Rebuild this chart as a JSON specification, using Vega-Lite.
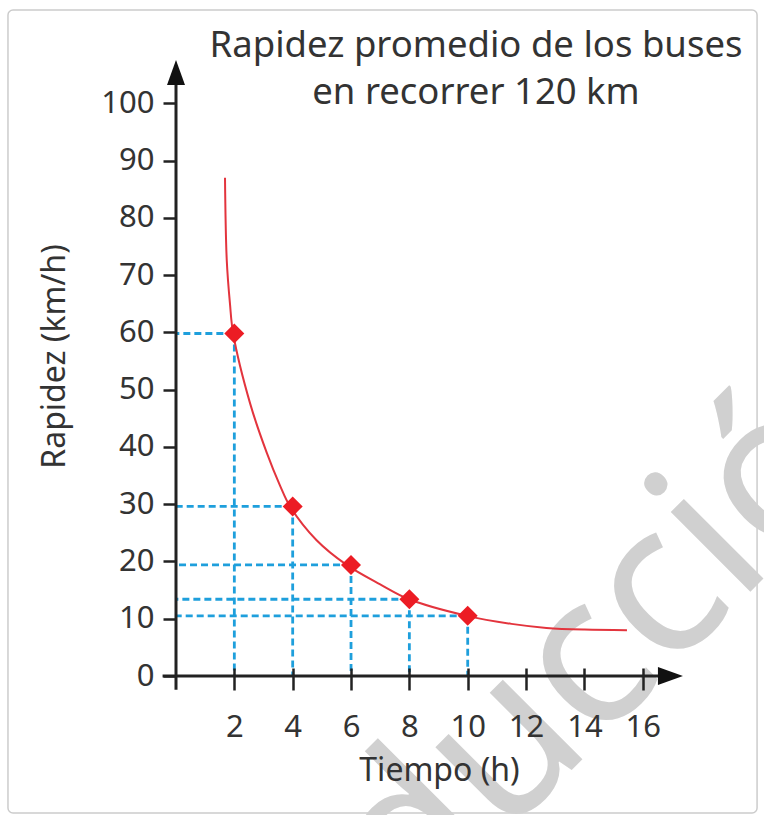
{
  "$schema": "https://vega.github.io/schema/vega-lite/v6.json",
  "width": 508,
  "height": 614,
  "autosize": {"type": "none"},
  "padding": {"left": 176, "top": 62, "right": 80, "bottom": 139},
  "background": "white",
  "config": {
    "view": {"stroke": null},
    "font": "Noto Sans",
    "axisX": {
      "domain": false, "grid": false,
      "offset": -8,
      "ticks": true, "tickSize": 22, "tickWidth": 2.5, "tickColor": "#222222",
      "labelFont": "Noto Sans", "labelFontSize": 31, "labelColor": "#333333",
      "labelBaseline": "alphabetic", "labelPadding": 46,
      "titleFont": "Noto Sans", "titleFontSize": 32, "titleFontWeight": "normal", "titleColor": "#333333",
      "titleX": 263, "titleY": 112, "titleAlign": "center", "titleBaseline": "alphabetic"
    },
    "axisY": {
      "domain": false, "grid": false,
      "ticks": true, "tickSize": 13, "tickWidth": 2.5, "tickColor": "#222222",
      "labelFont": "Noto Sans", "labelFontSize": 31, "labelColor": "#333333",
      "labelPadding": 9,
      "titleFont": "Noto Sans", "titleFontSize": 32, "titleFontWeight": "normal", "titleColor": "#333333",
      "titleX": -112, "titleY": 294, "titleAlign": "center", "titleBaseline": "alphabetic", "titleAngle": -90
    }
  },
  "title": {
    "text": ["Rapidez promedio de los buses", "en recorrer 120 km"],
    "font": "Noto Sans",
    "fontSize": 36.5,
    "fontWeight": "normal",
    "color": "#333333",
    "anchor": "middle",
    "frame": "group",
    "baseline": "alphabetic",
    "lineHeight": 47,
    "dx": 46,
    "offset": -131.5
  },
  "datasets": {
    "curve": [
      {"t": 1.68, "v": 87},
      {"t": 1.74, "v": 72.6},
      {"t": 1.85, "v": 65},
      {"t": 1.96, "v": 59.8},
      {"t": 2.54, "v": 47.6},
      {"t": 3.11, "v": 39.0},
      {"t": 3.57, "v": 33.2},
      {"t": 3.91, "v": 29.6},
      {"t": 4.82, "v": 23.7},
      {"t": 5.85, "v": 19.4},
      {"t": 7.0, "v": 16.0},
      {"t": 7.99, "v": 13.4},
      {"t": 9.98, "v": 10.5},
      {"t": 11.5, "v": 9.1},
      {"t": 12.7, "v": 8.4},
      {"t": 14.0, "v": 8.1},
      {"t": 15.46, "v": 8.0}
    ],
    "points": [
      {"t": 2, "v": 59.8},
      {"t": 4, "v": 29.6},
      {"t": 6, "v": 19.4},
      {"t": 8, "v": 13.4},
      {"t": 10, "v": 10.5}
    ],
    "watermark": [
      {"label": "ducció"}
    ]
  },
  "layer": [
    {
      "data": {"values": [{}]},
      "mark": {"type": "rect", "fill": "transparent", "stroke": "#cccccc", "strokeWidth": 1.5, "cornerRadius": 5},
      "encoding": {
        "x": {"datum": -5.76, "type": "quantitative", "scale": {"domain": [0, 17.415], "nice": false, "zero": false}, "title": "Tiempo (h)", "axis": {"values": [2, 4, 6, 8, 10, 12, 14, 16], "zindex": 1}},
        "x2": {"datum": 19.92},
        "y": {"datum": -23.92, "type": "quantitative", "scale": {"domain": [0, 107.2], "nice": false, "zero": false}, "title": "Rapidez (km/h)", "axis": {"values": [0, 10, 20, 30, 40, 50, 60, 70, 80, 90, 100], "zindex": 1}},
        "y2": {"datum": 116.28}
      }
    },
    {
      "data": {"name": "watermark"},
      "mark": {"type": "text", "font": "Noto Sans", "fontSize": 210, "color": "#d0d0d0", "angle": -45, "align": "center", "baseline": "alphabetic"},
      "encoding": {
        "x": {"datum": 15.87, "type": "quantitative", "scale": {"domain": [0, 17.415], "nice": false, "zero": false}, "title": "Tiempo (h)", "axis": {"values": [2, 4, 6, 8, 10, 12, 14, 16], "zindex": 1}},
        "y": {"datum": -4.71, "type": "quantitative", "scale": {"domain": [0, 107.2], "nice": false, "zero": false}, "title": "Rapidez (km/h)", "axis": {"values": [0, 10, 20, 30, 40, 50, 60, 70, 80, 90, 100], "zindex": 1}},
        "text": {"field": "label"}
      }
    },
    {
      "data": {"name": "points"},
      "mark": {"type": "rule", "color": "#1e9fdc", "strokeWidth": 2.8, "strokeDash": [7, 4]},
      "encoding": {
        "x": {"field": "t", "type": "quantitative", "scale": {"domain": [0, 17.415], "nice": false, "zero": false}, "title": "Tiempo (h)", "axis": {"values": [2, 4, 6, 8, 10, 12, 14, 16], "zindex": 1}},
        "x2": {"datum": 0},
        "y": {"field": "v", "type": "quantitative", "scale": {"domain": [0, 107.2], "nice": false, "zero": false}, "title": "Rapidez (km/h)", "axis": {"values": [0, 10, 20, 30, 40, 50, 60, 70, 80, 90, 100], "zindex": 1}}
      }
    },
    {
      "data": {"name": "points"},
      "mark": {"type": "rule", "color": "#1e9fdc", "strokeWidth": 2.8, "strokeDash": [7, 4]},
      "encoding": {
        "x": {"field": "t", "type": "quantitative", "scale": {"domain": [0, 17.415], "nice": false, "zero": false}, "title": "Tiempo (h)", "axis": {"values": [2, 4, 6, 8, 10, 12, 14, 16], "zindex": 1}},
        "y": {"field": "v", "type": "quantitative", "scale": {"domain": [0, 107.2], "nice": false, "zero": false}, "title": "Rapidez (km/h)", "axis": {"values": [0, 10, 20, 30, 40, 50, 60, 70, 80, 90, 100], "zindex": 1}},
        "y2": {"datum": 0}
      }
    },
    {
      "data": {"name": "curve"},
      "mark": {"type": "line", "color": "#e3343d", "strokeWidth": 2, "interpolate": "catmull-rom"},
      "encoding": {
        "x": {"field": "t", "type": "quantitative", "scale": {"domain": [0, 17.415], "nice": false, "zero": false}, "title": "Tiempo (h)", "axis": {"values": [2, 4, 6, 8, 10, 12, 14, 16], "zindex": 1}},
        "y": {"field": "v", "type": "quantitative", "scale": {"domain": [0, 107.2], "nice": false, "zero": false}, "title": "Rapidez (km/h)", "axis": {"values": [0, 10, 20, 30, 40, 50, 60, 70, 80, 90, 100], "zindex": 1}}
      }
    },
    {
      "data": {"values": [{}]},
      "mark": {"type": "rule", "color": "#222222", "strokeWidth": 3},
      "encoding": {
        "x": {"datum": -0.46, "type": "quantitative", "scale": {"domain": [0, 17.415], "nice": false, "zero": false}, "title": "Tiempo (h)", "axis": {"values": [2, 4, 6, 8, 10, 12, 14, 16], "zindex": 1}},
        "x2": {"datum": 16.95},
        "y": {"datum": 0, "type": "quantitative", "scale": {"domain": [0, 107.2], "nice": false, "zero": false}, "title": "Rapidez (km/h)", "axis": {"values": [0, 10, 20, 30, 40, 50, 60, 70, 80, 90, 100], "zindex": 1}}
      }
    },
    {
      "data": {"values": [{}]},
      "mark": {"type": "rule", "color": "#222222", "strokeWidth": 3},
      "encoding": {
        "x": {"datum": 0, "type": "quantitative", "scale": {"domain": [0, 17.415], "nice": false, "zero": false}, "title": "Tiempo (h)", "axis": {"values": [2, 4, 6, 8, 10, 12, 14, 16], "zindex": 1}},
        "y": {"datum": -2.4, "type": "quantitative", "scale": {"domain": [0, 107.2], "nice": false, "zero": false}, "title": "Rapidez (km/h)", "axis": {"values": [0, 10, 20, 30, 40, 50, 60, 70, 80, 90, 100], "zindex": 1}},
        "y2": {"datum": 105.38}
      }
    },
    {
      "data": {"values": [{}]},
      "mark": {"type": "point", "shape": "M-1,-0.72L1,0L-1,0.72Z", "size": 625, "filled": true, "color": "#111111", "opacity": 1},
      "encoding": {
        "x": {"datum": 16.95, "type": "quantitative", "scale": {"domain": [0, 17.415], "nice": false, "zero": false}, "title": "Tiempo (h)", "axis": {"values": [2, 4, 6, 8, 10, 12, 14, 16], "zindex": 1}},
        "y": {"datum": 0, "type": "quantitative", "scale": {"domain": [0, 107.2], "nice": false, "zero": false}, "title": "Rapidez (km/h)", "axis": {"values": [0, 10, 20, 30, 40, 50, 60, 70, 80, 90, 100], "zindex": 1}}
      }
    },
    {
      "data": {"values": [{}]},
      "mark": {"type": "point", "shape": "M-0.72,1L0,-1L0.72,1Z", "size": 625, "filled": true, "color": "#111111", "opacity": 1},
      "encoding": {
        "x": {"datum": 0, "type": "quantitative", "scale": {"domain": [0, 17.415], "nice": false, "zero": false}, "title": "Tiempo (h)", "axis": {"values": [2, 4, 6, 8, 10, 12, 14, 16], "zindex": 1}},
        "y": {"datum": 105.38, "type": "quantitative", "scale": {"domain": [0, 107.2], "nice": false, "zero": false}, "title": "Rapidez (km/h)", "axis": {"values": [0, 10, 20, 30, 40, 50, 60, 70, 80, 90, 100], "zindex": 1}}
      }
    },
    {
      "data": {"name": "points"},
      "mark": {"type": "point", "shape": "diamond", "size": 400, "filled": true, "color": "#ec1c24", "opacity": 1},
      "encoding": {
        "x": {"field": "t", "type": "quantitative", "scale": {"domain": [0, 17.415], "nice": false, "zero": false}, "title": "Tiempo (h)", "axis": {"values": [2, 4, 6, 8, 10, 12, 14, 16], "zindex": 1}},
        "y": {"field": "v", "type": "quantitative", "scale": {"domain": [0, 107.2], "nice": false, "zero": false}, "title": "Rapidez (km/h)", "axis": {"values": [0, 10, 20, 30, 40, 50, 60, 70, 80, 90, 100], "zindex": 1}}
      }
    }
  ]
}
